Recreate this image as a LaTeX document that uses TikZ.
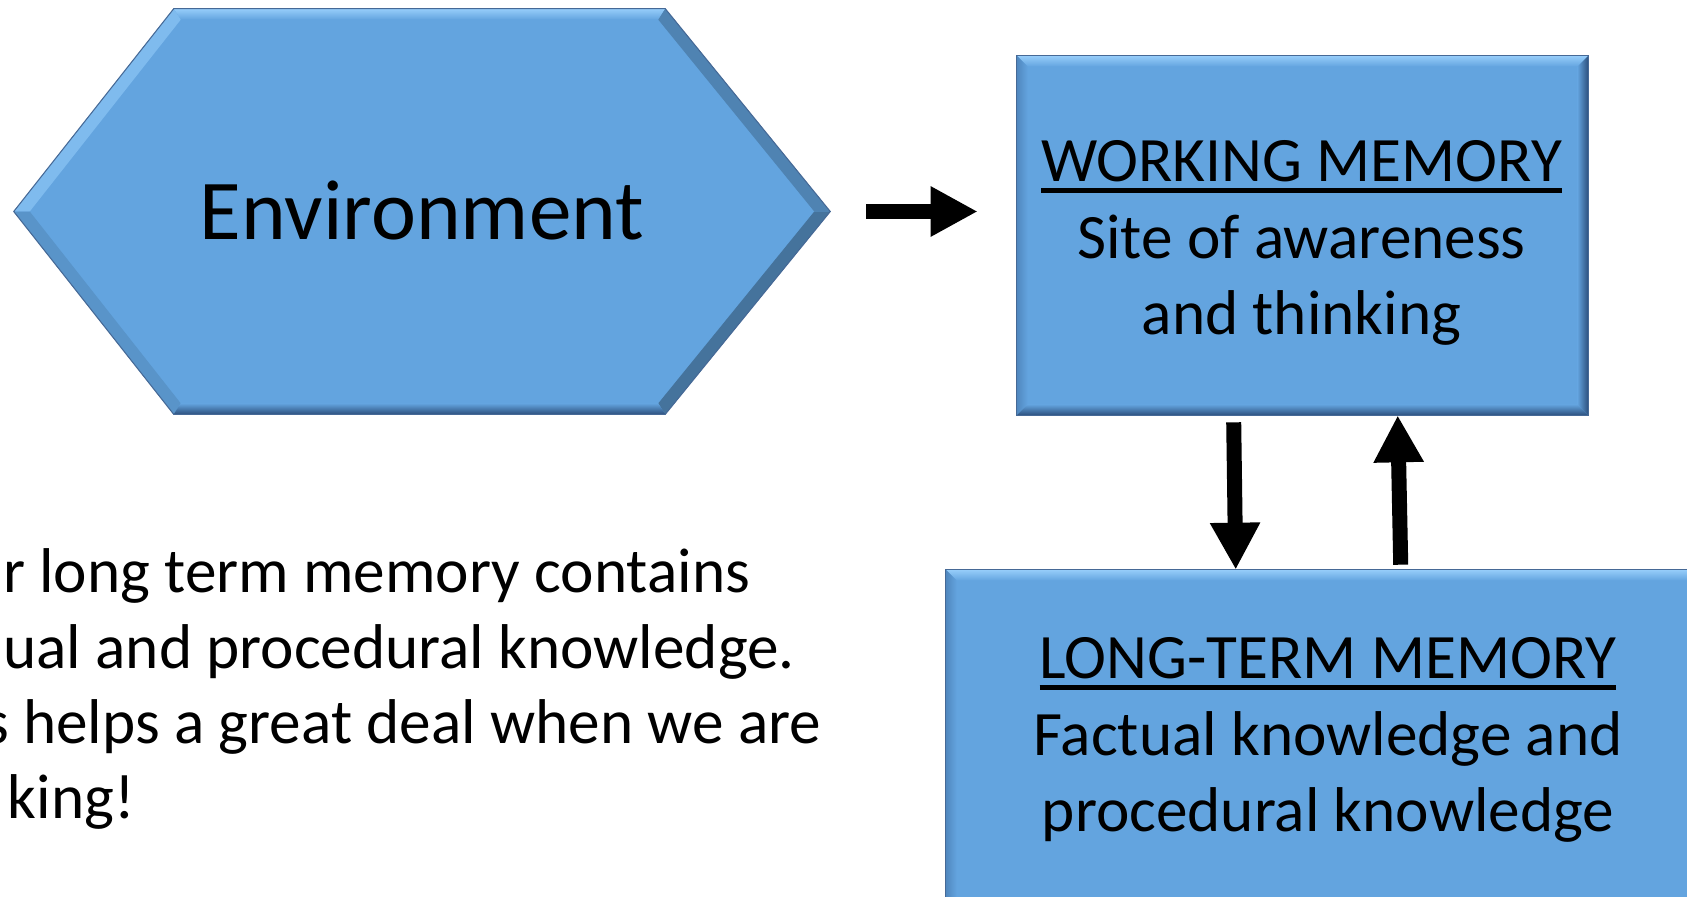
\documentclass[tikz,border=0pt]{standalone}
\usepackage{fontspec}
\setmainfont{Carlito}
\usetikzlibrary{calc,arrows.meta}
\definecolor{boxblue}{RGB}{99,164,223}
\definecolor{bevlight}{RGB}{150,205,250}
\definecolor{bevdark}{RGB}{45,80,125}
\definecolor{bevmid}{RGB}{80,135,190}
\definecolor{edgeline}{RGB}{70,105,150}
\newcommand{\myul}[1]{\setbox0\hbox{#1}\rlap{\rule[-0.175em]{\wd0}{0.065em}}\box0}
\newcommand{\bevelrect}[1]{%
  \shade[top color=bevlight, bottom color=boxblue] (#1.north west) -- (#1.north east) -- ($(#1.north east)+(-11,11)$) -- ($(#1.north west)+(11,11)$) -- cycle;
  \shade[left color=bevmid, right color=boxblue] (#1.north west) -- ($(#1.north west)+(11,11)$) -- ($(#1.south west)+(11,-11)$) -- (#1.south west) -- cycle;
  \shade[left color=boxblue, right color=bevdark] (#1.north east) -- (#1.south east) -- ($(#1.south east)+(-11,-11)$) -- ($(#1.north east)+(-11,11)$) -- cycle;
  \shade[top color=boxblue, bottom color=bevdark] (#1.south west) -- ($(#1.south west)+(11,-11)$) -- ($(#1.south east)+(-11,-11)$) -- (#1.south east) -- cycle;
  \draw[edgeline, line width=0.6pt] (#1.north west) rectangle (#1.south east);
}
\begin{document}
\begin{tikzpicture}[x=0.02cm, y=-0.02cm,
  hexframe/.style={rectangle, inner sep=0pt, minimum width=16.32cm, minimum height=8.1cm},
  boxnode/.style={rectangle, inner sep=0pt, fill=boxblue},
  boxtext/.style={anchor=base, inner sep=0pt, align=center, font=\fontsize{36}{43.6}\selectfont},
  envtext/.style={anchor=base, inner sep=0pt, font=\fontsize{48.5}{58}\selectfont},
  plaintext/.style={anchor=base west, inner sep=0pt, font=\fontsize{36}{43.6}\selectfont},
  blockarrow/.style={line width=0.3cm, -{Triangle[length=0.94cm,width=0.94cm]}}
]
\useasboundingbox (0,0) rectangle (1687,896);
\clip (0,0) rectangle (1687,896);

% ---- Environment hexagon ----
\node[hexframe] (env) at (422,211.5) {};
\coordinate (hL) at (env.west);
\coordinate (hTL) at ($(env.north west)+(160,0)$);
\coordinate (hTR) at ($(env.north east)+(-165,0)$);
\coordinate (hR) at (env.east);
\coordinate (hBR) at ($(env.south east)+(-165,0)$);
\coordinate (hBL) at ($(env.south west)+(160,0)$);
\coordinate (iL) at ($(hL)+(16,0)$);
\coordinate (iTL) at ($(hTL)+(7,11)$);
\coordinate (iTR) at ($(hTR)+(-7,11)$);
\coordinate (iR) at ($(hR)+(-16,0)$);
\coordinate (iBR) at ($(hBR)+(-7,-11)$);
\coordinate (iBL) at ($(hBL)+(7,-11)$);
\fill[boxblue] (hL) -- (hTL) -- (hTR) -- (hR) -- (hBR) -- (hBL) -- cycle;
\shade[top color=bevlight, bottom color=boxblue] (hTL) -- (hTR) -- (iTR) -- (iTL) -- cycle;
\fill[bevlight!55!boxblue] (hL) -- (hTL) -- (iTL) -- (iL) -- cycle;
\fill[boxblue!90!black] (hL) -- (iL) -- (iBL) -- (hBL) -- cycle;
\fill[boxblue!80!black] (hTR) -- (hR) -- (iR) -- (iTR) -- cycle;
\fill[boxblue!70!black] (hR) -- (hBR) -- (iBR) -- (iR) -- cycle;
\shade[top color=boxblue, bottom color=bevdark] (hBL) -- (iBL) -- (iBR) -- (hBR) -- cycle;
\draw[edgeline, line width=0.6pt] (hL) -- (hTL) -- (hTR) -- (hR) -- (hBR) -- (hBL) -- cycle;
\node[envtext] (envlabel) at ($(env.center)+(0,28)$) {Environment};

% ---- Working memory ----
\node[boxnode, minimum width=11.42cm, minimum height=7.18cm] (wm) at (1302.5,235.5) {};
\bevelrect{wm}
\node[boxtext] (wmtext) at ($(wm.north)+(-1,279)$) {\myul{WORKING MEMORY}\\Site of awareness\\and thinking};

% ---- Long-term memory ----
\node[boxnode, minimum width=15.28cm, minimum height=6.8cm] (ltm) at (1328,740) {};
\bevelrect{ltm}
\node[boxtext] (ltmtext) at ($(ltm.north)+(0,262)$) {\myul{LONG-TERM MEMORY}\\Factual knowledge and\\procedural knowledge};

% ---- Arrows ----
\draw[blockarrow] ($(env.east)+(36,0)$) -- ($(env.east -| wm.west)+(-39,0)$);
\draw[blockarrow] ($(wm.south west)+(217,7)$) -- ($(ltm.north west)+(290,0)$);
\draw[blockarrow] ($(ltm.north west)+(455,-5)$) -- ($(wm.south west)+(381,0)$);

% ---- Left text (cut at the left edge) ----
\node[plaintext] (t1) at (2.7,592) {r long term memory contains};
\node[plaintext] (t2) at (2.9,668) {ual and procedural knowledge.};
\node[plaintext] (t3) at (-16.2,743) {s helps a great deal when we are};
\node[plaintext] (t4) at (7.5,818) {king!};
\end{tikzpicture}
\end{document}
